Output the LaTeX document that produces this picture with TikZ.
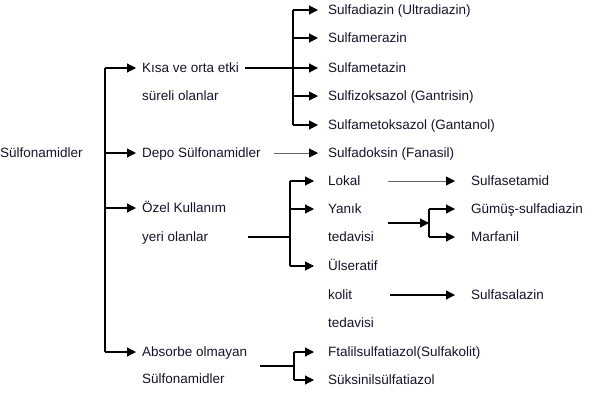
\documentclass[tikz,border=0pt]{standalone}
\usepackage{fontspec}
\setmainfont{Liberation Sans}
\usetikzlibrary{arrows.meta}
\definecolor{txt}{rgb}{0.08,0.08,0.16}
\begin{document}
\begin{tikzpicture}[x=1pt,y=-1pt,
  lbl/.style={font=\fontsize{13.5}{16}\selectfont, text=txt, inner sep=0pt, anchor=west, text height=9.5pt, text depth=1pt},
  conn/.style={line width=1.1pt, black},
  lightconn/.style={line width=0.8pt, black!60},
  tip/.style={-{Triangle[length=9pt,width=9pt,black]}}]
\useasboundingbox (0,0) rectangle (594,400);
% level 0/1
\node[lbl] (root) at (0,153) {Sülfonamidler};
\node[lbl] (kisa) at (142,68) {Kısa ve orta etki};
\node[lbl] (kisa2) at (142,96) {süreli olanlar};
\node[lbl] (depo) at (142,153) {Depo Sülfonamidler};
\node[lbl] (ozel) at (142,208) {Özel Kullanım};
\node[lbl] (ozel2) at (142,237) {yeri olanlar};
\node[lbl] (abs) at (142,352) {Absorbe olmayan};
\node[lbl] (abs2) at (142,379) {Sülfonamidler};
% level 2
\node[lbl] (sdiaz) at (328,10) {Sulfadiazin (Ultradiazin)};
\node[lbl] (smer) at (328,38) {Sulfamerazin};
\node[lbl] (smet) at (328,68) {Sulfametazin};
\node[lbl] (sfiz) at (328,96) {Sulfizoksazol (Gantrisin)};
\node[lbl] (smetok) at (328,125) {Sulfametoksazol (Gantanol)};
\node[lbl] (sdok) at (328,153) {Sulfadoksin (Fanasil)};
\node[lbl] (lokal) at (328,181) {Lokal};
\node[lbl] (yanik) at (328,209) {Yanık};
\node[lbl] (yanik2) at (328,237) {tedavisi};
\node[lbl] (ulser) at (328,266) {Ülseratif};
\node[lbl] (kolit) at (328,295) {kolit};
\node[lbl] (kolit2) at (328,323) {tedavisi};
\node[lbl] (ftal) at (328,352) {Ftalilsulfatiazol(Sulfakolit)};
\node[lbl] (suks) at (328,380) {Süksinilsülfatiazol};
% level 3
\node[lbl] (sset) at (471,181) {Sulfasetamid};
\node[lbl] (gumus) at (471,209) {Gümüş-sulfadiazin};
\node[lbl] (marf) at (471,237) {Marfanil};
\node[lbl] (ssal) at (471,295) {Sulfasalazin};
% main bus
\coordinate (mb) at (105,0);
\draw[conn] (kisa.west -| mb) -- (abs.west -| mb);
\foreach \n in {kisa,depo,ozel,abs}
  \draw[conn,tip,shorten >=6pt] (\n.west -| mb) -- (\n.west);
% Kisa ve orta etki
\coordinate (kstart) at (245,68);
\coordinate (kb) at (293,0);
\draw[conn] (kstart) -- (kstart -| kb);
\draw[conn] (sdiaz.west -| kb) -- (smetok.west -| kb);
\foreach \n in {sdiaz,smer,smet,sfiz,smetok}
  \draw[conn,tip,shorten >=10pt] (\n.west -| kb) -- (\n.west);
% Depo
\coordinate (dstart) at (274,153);
\draw[lightconn,tip,shorten >=10pt] (dstart) -- (sdok.west);
% Ozel
\coordinate (ostart) at (248,237);
\coordinate (ob) at (290,0);
\draw[conn] (ostart) -- (ostart -| ob);
\draw[conn] (lokal.west -| ob) -- (ulser.west -| ob);
\foreach \n in {lokal,yanik,ulser}
  \draw[conn,tip,shorten >=14pt] (\n.west -| ob) -- (\n.west);
% Lokal
\coordinate (lstart) at (388,181);
\draw[lightconn,tip,shorten >=16pt] (lstart) -- (sset.west);
% Yanik tedavisi
\coordinate (ystart) at (388,223);
\coordinate (yb) at (429,223);
\draw[conn,tip] (ystart) -- (yb);
\draw[conn] (gumus.west -| yb) -- (marf.west -| yb);
\foreach \n in {gumus,marf}
  \draw[conn,tip,shorten >=16pt] (\n.west -| yb) -- (\n.west);
% Kolit
\coordinate (kostart) at (390,295);
\draw[conn,tip,shorten >=16pt] (kostart) -- (ssal.west);
% Absorbe
\coordinate (astart) at (260,366);
\coordinate (ab) at (294,0);
\draw[conn] (astart) -- (astart -| ab);
\draw[conn] (ftal.west -| ab) -- (suks.west -| ab);
\foreach \n in {ftal,suks}
  \draw[conn,tip,shorten >=14pt] (\n.west -| ab) -- (\n.west);
\end{tikzpicture}
\end{document}
